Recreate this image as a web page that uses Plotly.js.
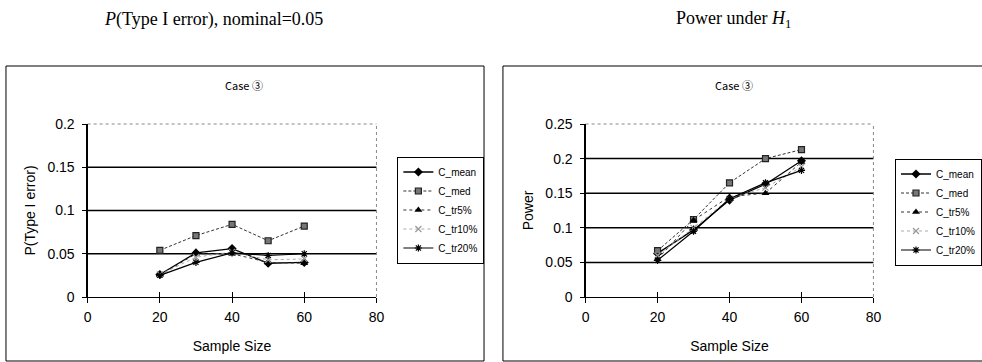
<!DOCTYPE html>
<html>
<head>
<meta charset="utf-8">
<script src="https://cdn.plot.ly/plotly-3.0.1.min.js"></script>
<style>html,body{margin:0;padding:0;background:#fff;}#chart{width:982px;height:362px;}</style>
</head>
<body>
<div id="chart"></div>
<script>
// ---- data ----
var sampleSizes = [20, 30, 40, 50, 60];
var seriesNames = ["C_mean", "C_med", "C_tr5%", "C_tr10%", "C_tr20%"];

// Left panel: P(Type I error)
var typeI_mean  = [0.026, 0.051, 0.056, 0.039, 0.040];
var typeI_med   = [0.054, 0.071, 0.084, 0.065, 0.082];
var typeI_tr5   = [0.025, 0.050, 0.050, 0.040, 0.039];
var typeI_tr10  = [0.026, 0.046, 0.052, 0.043, 0.044];
var typeI_tr20  = [0.025, 0.040, 0.051, 0.048, 0.050];

// Right panel: Power
var power_mean  = [0.063, 0.097, 0.140, 0.163, 0.197];
var power_med   = [0.067, 0.112, 0.165, 0.200, 0.213];
var power_tr5   = [0.055, 0.111, 0.145, 0.150, 0.195];
var power_tr10  = [0.060, 0.100, 0.142, 0.158, 0.188];
var power_tr20  = [0.053, 0.095, 0.142, 0.165, 0.183];

var xTicks = [0, 20, 40, 60, 80];
var yTicksLeft = [0, 0.05, 0.1, 0.15, 0.2];
var yTickTextLeft = ["0", "0.05", "0.1", "0.15", "0.2"];
var yTicksRight = [0, 0.05, 0.1, 0.15, 0.2, 0.25];
var yTickTextRight = ["0", "0.05", "0.1", "0.15", "0.2", "0.25"];
var gridLeft = [0.05, 0.1, 0.15];
var gridRight = [0.05, 0.1, 0.15, 0.2];

// ---- styles ----
var styles = [
  {line:{color:"#000", width:1.3, dash:"solid"}, marker:{symbol:"diamond", size:7, color:"#000"}},
  {line:{color:"#333", width:1, dash:"3px,2px"}, marker:{symbol:"square", size:6, color:"#777", line:{color:"#222", width:1.2}}},
  {line:{color:"#333", width:1, dash:"dot"}, marker:{symbol:"triangle-up", size:7, color:"#000"}},
  {line:{color:"#aaa", width:1, dash:"dot"}, marker:{symbol:"x-thin-open", size:6, color:"#999", line:{color:"#999", width:1.2}}},
  {line:{color:"#000", width:1.2, dash:"solid"}, marker:{symbol:"asterisk-open", size:6, color:"#000", line:{color:"#000", width:1.2}}}
];

var leftData = [typeI_mean, typeI_med, typeI_tr5, typeI_tr10, typeI_tr20];
var rightData = [power_mean, power_med, power_tr5, power_tr10, power_tr20];

var traces = [];
leftData.forEach(function(v, i){
  traces.push({x: sampleSizes, y: v, name: seriesNames[i], type:"scatter", mode:"lines+markers",
    xaxis:"x", yaxis:"y", legend:"legend", line: styles[i].line, marker: styles[i].marker});
});
rightData.forEach(function(v, i){
  traces.push({x: sampleSizes, y: v, name: seriesNames[i], type:"scatter", mode:"lines+markers",
    xaxis:"x2", yaxis:"y2", legend:"legend2", line: styles[i].line, marker: styles[i].marker});
});

var W = 982, H = 362;
function px(x){ return x / W; }
function py(y){ return 1 - y / H; }

var FONT = "Liberation Sans, Arial, sans-serif";
var tickFont = {family:FONT, size:14, color:"#000"};

var leftDom = [px(88), px(378)];
var rightDom = [px(588), px(877)];
var yDom = [py(297), py(124)];

function xAxis(dom, anchor){
  return {domain: dom, anchor: anchor, range:[0,80], tickvals:xTicks, ticktext:xTicks.map(String),
    showgrid:false, zeroline:false, showline:true, linecolor:"#000", linewidth:1.2,
    ticks:"outside", ticklen:5, tickcolor:"#000", tickwidth:1, tickfont:tickFont, ticklabelstandoff:2,
    title:{text:"Sample Size", font:{family:FONT, size:14, color:"#000"}, standoff:17}, fixedrange:true};
}
function xOver(dom, anchor, over){
  return {domain: dom, anchor: anchor, overlaying: over, range:[0,80], tickvals:xTicks,
    showgrid:false, zeroline:false, showline:false, ticks:"inside", ticklen:5, tickcolor:"#000",
    tickwidth:1, showticklabels:false};
}
function yAxis(anchor, range, tv, tt, title){
  return {domain: yDom, anchor: anchor, range: range, tickvals: tv, ticktext: tt,
    showgrid:false, zeroline:false, showline:true, linecolor:"#000", linewidth:1.2,
    ticks:"outside", ticklen:4, tickcolor:"#000", tickwidth:1, tickfont:tickFont, ticklabelstandoff:5,
    title:{text:title, font:{family:FONT, size:14, color:"#000"}, standoff:8},
    fixedrange:true};
}

var shapes = [];
// outer boxes
shapes.push({type:"rect", xref:"paper", yref:"paper", x0:px(6), x1:px(486), y0:py(361), y1:py(66),
  line:{color:"#000", width:1}, fillcolor:"rgba(0,0,0,0)"});
shapes.push({type:"rect", xref:"paper", yref:"paper", x0:px(505), x1:px(995), y0:py(361), y1:py(66),
  line:{color:"#000", width:1}, fillcolor:"rgba(0,0,0,0)"});
// gridlines
gridLeft.forEach(function(g){
  shapes.push({type:"line", xref:"x domain", yref:"y", x0:0, x1:1, y0:g, y1:g, layer:"below",
    line:{color:"#000", width:1.5}});
});
gridRight.forEach(function(g){
  shapes.push({type:"line", xref:"x2 domain", yref:"y2", x0:0, x1:1, y0:g, y1:g, layer:"below",
    line:{color:"#000", width:1.5}});
});
// dotted top/right plot borders
[["x domain","y domain"],["x2 domain","y2 domain"]].forEach(function(r){
  shapes.push({type:"line", xref:r[0], yref:r[1], x0:0, x1:1, y0:1, y1:1, layer:"below",
    line:{color:"#888", width:1, dash:"dot"}});
  shapes.push({type:"line", xref:r[0], yref:r[1], x0:1, x1:1, y0:0, y1:1, layer:"below",
    line:{color:"#888", width:1, dash:"dot"}});
});

var annotations = [
  {text:"<i>P</i>(Type I error), nominal=0.05", xref:"paper", yref:"paper", x:px(214), y:py(19),
    xanchor:"center", yanchor:"middle",
    showarrow:false, font:{family:"Liberation Serif, Times New Roman, serif", size:18, color:"#000"}},
  {text:"Power under <i>H</i><sub>1</sub>", xref:"paper", yref:"paper", x:px(737), y:py(19),
    xanchor:"center", yanchor:"middle",
    showarrow:false, font:{family:"Liberation Serif, Times New Roman, serif", size:18, color:"#000"}},
  {text:"Case ③", xref:"paper", yref:"paper", x:px(245), y:py(85), xanchor:"center", yanchor:"middle",
    showarrow:false, font:{family:"Noto Sans CJK KR, DejaVu Sans, sans-serif", size:11, color:"#000"}},
  {text:"Case ③", xref:"paper", yref:"paper", x:px(737), y:py(85), xanchor:"center", yanchor:"middle",
    showarrow:false, font:{family:"Noto Sans CJK KR, DejaVu Sans, sans-serif", size:11, color:"#000"}}
];

var legendStyle = function(x, y){
  return {x:x, y:y, xanchor:"left", yanchor:"middle", xref:"paper", yref:"paper",
    bgcolor:"#fff", bordercolor:"#000", borderwidth:1,
    font:{family:FONT, size:10, color:"#000"},
    itemwidth:30, tracegroupgap:0};
};

var layout = {
  width: W, height: H, margin:{l:0, r:0, t:0, b:0},
  paper_bgcolor:"#fff", plot_bgcolor:"rgba(0,0,0,0)",
  showlegend:true,
  xaxis: xAxis(leftDom, "y"),
  yaxis: yAxis("x", [0, 0.2], yTicksLeft, yTickTextLeft, "P(Type I error)"),
  xaxis2: xAxis(rightDom, "y2"),
  yaxis2: yAxis("x2", [0, 0.25], yTicksRight, yTickTextRight, "Power"),
  xaxis3: xOver(leftDom, "y", "x"),
  xaxis4: xOver(rightDom, "y2", "x2"),
  legend: legendStyle(px(399), py(210)),
  legend2: legendStyle(px(899), py(212)),
  shapes: shapes,
  annotations: annotations
};

// invisible points to activate the overlay tick axes
traces.push({x:[0], y:[0], xaxis:"x3", yaxis:"y", showlegend:false, mode:"markers", marker:{opacity:0}, hoverinfo:"skip"});
traces.push({x:[0], y:[0], xaxis:"x4", yaxis:"y2", showlegend:false, mode:"markers", marker:{opacity:0}, hoverinfo:"skip"});

Plotly.newPlot("chart", traces, layout, {staticPlot:true, displayModeBar:false});
</script>
</body>
</html>
